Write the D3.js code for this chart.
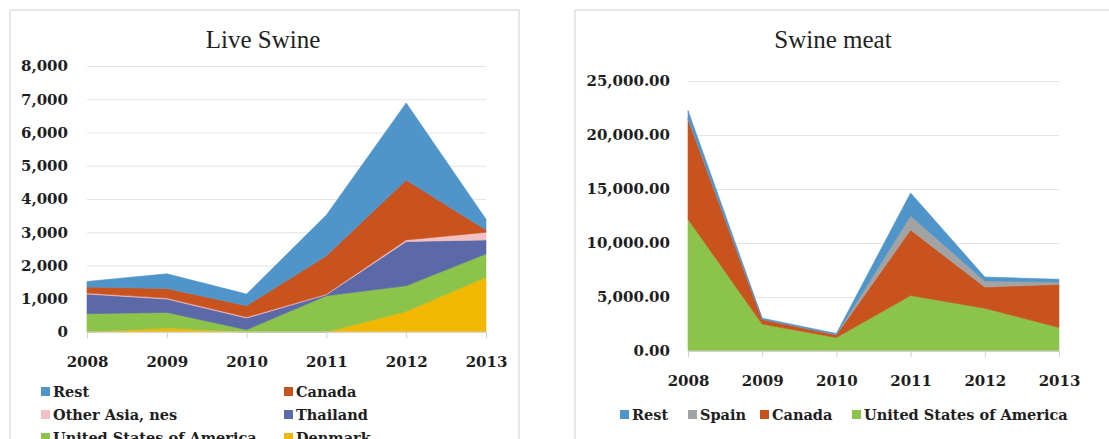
<!DOCTYPE html>
<html>
<head>
<meta charset="utf-8">
<script src="https://cdn.jsdelivr.net/npm/d3@7"></script>
<style>
  body { margin: 0; background: #fff; }
  svg { display: block; font-family: "Liberation Serif", "Times New Roman", serif; }
  .tick text, .legtext { font-family: "DejaVu Serif", serif; font-weight: bold; fill: #1e1e1e; }
</style>
</head>
<body>
<svg id="chart" width="1109" height="439"></svg>
<script>
// years on the x axis
const years = ['2008', '2009', '2010', '2011', '2012', '2013'];

// Live Swine series (stack order bottom -> top)
const liveKeys = ['Denmark', 'United States of America', 'Thailand', 'Other Asia, nes', 'Canada', 'Rest'];
const liveDenmark = [0, 120, 0, 0, 620, 1650];
const liveUSA = [550, 470, 70, 1090, 770, 700];
const liveThailand = [590, 400, 350, 30, 1330, 420];
const liveOtherAsia = [30, 30, 30, 20, 50, 230];
const liveCanada = [180, 290, 340, 1150, 1800, 70];
const liveRest = [170, 440, 350, 1230, 2320, 320];
const liveTicks = [0, 1000, 2000, 3000, 4000, 5000, 6000, 7000, 8000];

// Swine meat series (stack order bottom -> top)
const meatKeys = ['United States of America', 'Canada', 'Spain', 'Rest'];
const meatUSA = [12210, 2490, 1250, 5140, 3960, 2180];
const meatCanada = [9290, 440, 250, 6070, 1960, 3990];
const meatSpain = [50, 20, 20, 1310, 560, 220];
const meatRest = [720, 90, 100, 2120, 370, 250];
const meatTicks = [0, 5000, 10000, 15000, 20000, 25000];

const colors = {
    'Rest': '#4f95c9',
    'Canada': '#c8531f',
    'Other Asia, nes': '#f3c0c3',
    'Thailand': '#5b69a8',
    'United States of America': '#8cc34a',
    'Denmark': '#f2b700',
    'Spain': '#a3a3a3'
};

const liveRows = years.map((y, i) => ({
    year: y,
    'Denmark': liveDenmark[i],
    'United States of America': liveUSA[i],
    'Thailand': liveThailand[i],
    'Other Asia, nes': liveOtherAsia[i],
    'Canada': liveCanada[i],
    'Rest': liveRest[i]
}));

const meatRows = years.map((y, i) => ({
    year: y,
    'United States of America': meatUSA[i],
    'Canada': meatCanada[i],
    'Spain': meatSpain[i],
    'Rest': meatRest[i]
}));

const svg = d3.select('#chart');

function drawPanel(p) {
    const g = svg.append('g');

    // panel frame
    g.append('rect')
        .attr('x', p.frame[0]).attr('y', p.frame[1])
        .attr('width', p.frame[2]).attr('height', p.frame[3])
        .attr('fill', '#fff')
        .attr('stroke', '#d9d9d9')
        .attr('stroke-width', 1.2);

    const x = d3.scalePoint().domain(years).range([p.x0, p.x1]);
    const y = d3.scaleLinear().domain([0, p.max]).range([p.yBottom, p.yTop]);

    // grid
    const grid = g.append('g')
        .attr('transform', `translate(${p.x0},0)`)
        .call(d3.axisLeft(y).tickValues(p.ticks).tickSize(-(p.x1 - p.x0)).tickFormat(''));
    grid.select('.domain').remove();
    grid.selectAll('line').attr('stroke', '#e4e4e4').attr('stroke-width', 1);

    // stacked areas
    const series = d3.stack().keys(p.keys)(p.rows);
    const area = d3.area()
        .x(d => x(d.data.year))
        .y0(d => y(d[0]))
        .y1(d => y(d[1]));

    g.selectAll('.layer')
        .data(series)
        .enter()
        .append('path')
        .attr('class', 'layer')
        .attr('fill', d => colors[d.key])
        .attr('stroke', d => colors[d.key])
        .attr('stroke-width', 0.6)
        .attr('d', area);

    // y tick labels
    const yAxis = g.append('g')
        .attr('transform', `translate(${p.yLabelX},0)`)
        .call(d3.axisLeft(y).tickValues(p.ticks).tickSize(0).tickPadding(0).tickFormat(p.fmt))
        .attr('font-family', null)
        .attr('font-size', 15);
    yAxis.select('.domain').remove();

    // x axis
    const xAxis = g.append('g')
        .attr('transform', `translate(0,${p.yBottom})`)
        .call(d3.axisBottom(x).tickSize(6).tickPadding(p.xPad))
        .attr('font-family', null)
        .attr('font-size', 15);
    xAxis.select('.domain')
        .attr('stroke', '#cfcfcf')
        .attr('d', `M${p.x0},0H${p.x1}`);
    xAxis.selectAll('line').attr('stroke', '#cfcfcf');

    // title
    g.append('text')
        .attr('x', p.titleX)
        .attr('y', 48)
        .attr('text-anchor', 'middle')
        .attr('fill', '#222')
        .style('font-size', '25px')
        .text(p.title);

    // legend
    const leg = g.selectAll('.leg')
        .data(p.legend)
        .enter()
        .append('g')
        .attr('class', 'leg')
        .attr('transform', d => `translate(${d.x},${d.y})`);
    leg.append('rect')
        .attr('x', 0).attr('y', -10)
        .attr('width', 9).attr('height', 9)
        .attr('fill', d => colors[d.key]);
    leg.append('text')
        .attr('class', 'legtext')
        .attr('x', 12)
        .attr('font-size', 14.5)
        .text(d => d.key);
}

drawPanel({
    title: 'Live Swine',
    titleX: 263,
    frame: [10, 10, 509, 445],
    x0: 87, x1: 486,
    yTop: 66, yBottom: 332,
    max: 8000,
    ticks: liveTicks,
    fmt: d3.format(','),
    yLabelX: 68,
    xPad: 18,
    keys: liveKeys,
    rows: liveRows,
    legend: [
        { key: 'Rest', x: 41, y: 397 },
        { key: 'Canada', x: 284, y: 397 },
        { key: 'Other Asia, nes', x: 41, y: 420 },
        { key: 'Thailand', x: 284, y: 420 },
        { key: 'United States of America', x: 41, y: 443 },
        { key: 'Denmark', x: 284, y: 443 }
    ]
});

drawPanel({
    title: 'Swine meat',
    titleX: 833,
    frame: [575, 10, 560, 445],
    x0: 688, x1: 1059,
    yTop: 81, yBottom: 351,
    max: 25000,
    ticks: meatTicks,
    fmt: d3.format(',.2f'),
    yLabelX: 670,
    xPad: 18,
    keys: meatKeys,
    rows: meatRows,
    legend: [
        { key: 'Rest', x: 620, y: 420 },
        { key: 'Spain', x: 688, y: 420 },
        { key: 'Canada', x: 760, y: 420 },
        { key: 'United States of America', x: 852, y: 420 }
    ]
});
</script>
</body>
</html>
